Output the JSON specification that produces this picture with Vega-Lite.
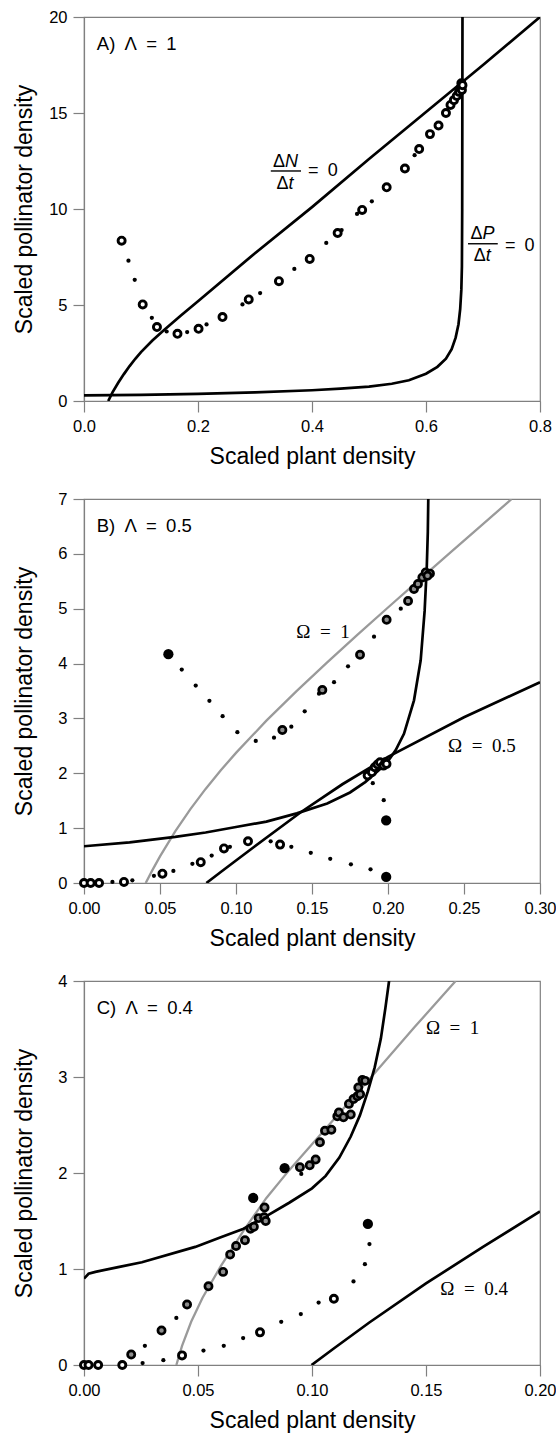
{
"$schema": "https://vega.github.io/schema/vega-lite/v6.json",
"background": "white",
"padding": {"left": 12, "top": 8, "right": 0, "bottom": 0},
"bounds": "flush",
"spacing": 98,
"datasets": {
"curves": [
{"p":"A","c":"N","g":"k","i":0,"x":0.0425,"y":0},{"p":"A","c":"N","g":"k","i":1,"x":0.05,"y":0.45},{"p":"A","c":"N","g":"k","i":2,"x":0.06,"y":0.95},{"p":"A","c":"N","g":"k","i":3,"x":0.07,"y":1.4},{"p":"A","c":"N","g":"k","i":4,"x":0.08,"y":1.82},{"p":"A","c":"N","g":"k","i":5,"x":0.09,"y":2.2},{"p":"A","c":"N","g":"k","i":6,"x":0.1,"y":2.55},{"p":"A","c":"N","g":"k","i":7,"x":0.12,"y":3.15},{"p":"A","c":"N","g":"k","i":8,"x":0.14,"y":3.68},{"p":"A","c":"N","g":"k","i":9,"x":0.17,"y":4.45},{"p":"A","c":"N","g":"k","i":10,"x":0.2,"y":5.2},{"p":"A","c":"N","g":"k","i":11,"x":0.3,"y":7.7},{"p":"A","c":"N","g":"k","i":12,"x":0.4,"y":10.1},{"p":"A","c":"N","g":"k","i":13,"x":0.5,"y":12.6},{"p":"A","c":"N","g":"k","i":14,"x":0.6,"y":15.05},{"p":"A","c":"N","g":"k","i":15,"x":0.7,"y":17.5},{"p":"A","c":"N","g":"k","i":16,"x":0.8,"y":20},
{"p":"A","c":"P","g":"k","i":0,"x":0,"y":0.29},{"p":"A","c":"P","g":"k","i":1,"x":0.1,"y":0.32},{"p":"A","c":"P","g":"k","i":2,"x":0.2,"y":0.37},{"p":"A","c":"P","g":"k","i":3,"x":0.3,"y":0.45},{"p":"A","c":"P","g":"k","i":4,"x":0.4,"y":0.56},{"p":"A","c":"P","g":"k","i":5,"x":0.45,"y":0.64},{"p":"A","c":"P","g":"k","i":6,"x":0.5,"y":0.75},{"p":"A","c":"P","g":"k","i":7,"x":0.54,"y":0.9},{"p":"A","c":"P","g":"k","i":8,"x":0.57,"y":1.08},{"p":"A","c":"P","g":"k","i":9,"x":0.6,"y":1.42},{"p":"A","c":"P","g":"k","i":10,"x":0.62,"y":1.78},{"p":"A","c":"P","g":"k","i":11,"x":0.635,"y":2.2},{"p":"A","c":"P","g":"k","i":12,"x":0.645,"y":2.7},{"p":"A","c":"P","g":"k","i":13,"x":0.652,"y":3.3},{"p":"A","c":"P","g":"k","i":14,"x":0.657,"y":4.0},{"p":"A","c":"P","g":"k","i":15,"x":0.66,"y":4.8},{"p":"A","c":"P","g":"k","i":16,"x":0.662,"y":5.8},{"p":"A","c":"P","g":"k","i":17,"x":0.663,"y":7},{"p":"A","c":"P","g":"k","i":18,"x":0.6635,"y":10},{"p":"A","c":"P","g":"k","i":19,"x":0.664,"y":20},
{"p":"B","c":"P","g":"k","i":0,"x":0,"y":0.67},{"p":"B","c":"P","g":"k","i":1,"x":0.03,"y":0.74},{"p":"B","c":"P","g":"k","i":2,"x":0.06,"y":0.84},{"p":"B","c":"P","g":"k","i":3,"x":0.08,"y":0.92},{"p":"B","c":"P","g":"k","i":4,"x":0.1,"y":1.02},{"p":"B","c":"P","g":"k","i":5,"x":0.12,"y":1.12},{"p":"B","c":"P","g":"k","i":6,"x":0.14,"y":1.27},{"p":"B","c":"P","g":"k","i":7,"x":0.16,"y":1.45},{"p":"B","c":"P","g":"k","i":8,"x":0.175,"y":1.65},{"p":"B","c":"P","g":"k","i":9,"x":0.185,"y":1.84},{"p":"B","c":"P","g":"k","i":10,"x":0.195,"y":2.08},{"p":"B","c":"P","g":"k","i":11,"x":0.2007,"y":2.25},{"p":"B","c":"P","g":"k","i":12,"x":0.205,"y":2.42},{"p":"B","c":"P","g":"k","i":13,"x":0.2105,"y":2.72},{"p":"B","c":"P","g":"k","i":14,"x":0.2171,"y":3.33},{"p":"B","c":"P","g":"k","i":15,"x":0.2215,"y":4.06},{"p":"B","c":"P","g":"k","i":16,"x":0.2241,"y":4.96},{"p":"B","c":"P","g":"k","i":17,"x":0.2255,"y":5.75},{"p":"B","c":"P","g":"k","i":18,"x":0.2262,"y":6.4},{"p":"B","c":"P","g":"k","i":19,"x":0.2265,"y":7.0},
{"p":"B","c":"O5","g":"k","i":0,"x":0.0805,"y":0},{"p":"B","c":"O5","g":"k","i":1,"x":0.09,"y":0.2},{"p":"B","c":"O5","g":"k","i":2,"x":0.1,"y":0.41},{"p":"B","c":"O5","g":"k","i":3,"x":0.1118,"y":0.656},{"p":"B","c":"O5","g":"k","i":4,"x":0.1426,"y":1.29},{"p":"B","c":"O5","g":"k","i":5,"x":0.17,"y":1.8},{"p":"B","c":"O5","g":"k","i":6,"x":0.2,"y":2.3},{"p":"B","c":"O5","g":"k","i":7,"x":0.25,"y":3.02},{"p":"B","c":"O5","g":"k","i":8,"x":0.3,"y":3.66},
{"p":"B","c":"O1","g":"g","i":0,"x":0.0406,"y":0},{"p":"B","c":"O1","g":"g","i":1,"x":0.045,"y":0.235},{"p":"B","c":"O1","g":"g","i":2,"x":0.05,"y":0.485},{"p":"B","c":"O1","g":"g","i":3,"x":0.06,"y":0.94},{"p":"B","c":"O1","g":"g","i":4,"x":0.07,"y":1.346},{"p":"B","c":"O1","g":"g","i":5,"x":0.08,"y":1.715},{"p":"B","c":"O1","g":"g","i":6,"x":0.09,"y":2.055},{"p":"B","c":"O1","g":"g","i":7,"x":0.1,"y":2.372},{"p":"B","c":"O1","g":"g","i":8,"x":0.12,"y":2.959},{"p":"B","c":"O1","g":"g","i":9,"x":0.14,"y":3.503},{"p":"B","c":"O1","g":"g","i":10,"x":0.16,"y":4.022},{"p":"B","c":"O1","g":"g","i":11,"x":0.18,"y":4.527},{"p":"B","c":"O1","g":"g","i":12,"x":0.2,"y":5.022},{"p":"B","c":"O1","g":"g","i":13,"x":0.22,"y":5.512},{"p":"B","c":"O1","g":"g","i":14,"x":0.24,"y":5.998},{"p":"B","c":"O1","g":"g","i":15,"x":0.26,"y":6.483},{"p":"B","c":"O1","g":"g","i":16,"x":0.2812,"y":6.996},
{"p":"C","c":"P","g":"k","i":0,"x":0,"y":0.9},{"p":"C","c":"P","g":"k","i":1,"x":0.002,"y":0.95},{"p":"C","c":"P","g":"k","i":2,"x":0.005,"y":0.97},{"p":"C","c":"P","g":"k","i":3,"x":0.015,"y":1.02},{"p":"C","c":"P","g":"k","i":4,"x":0.0254,"y":1.07},{"p":"C","c":"P","g":"k","i":5,"x":0.0488,"y":1.23},{"p":"C","c":"P","g":"k","i":6,"x":0.06,"y":1.33},{"p":"C","c":"P","g":"k","i":7,"x":0.07,"y":1.42},{"p":"C","c":"P","g":"k","i":8,"x":0.08,"y":1.55},{"p":"C","c":"P","g":"k","i":9,"x":0.09,"y":1.69},{"p":"C","c":"P","g":"k","i":10,"x":0.1,"y":1.84},{"p":"C","c":"P","g":"k","i":11,"x":0.106,"y":1.97},{"p":"C","c":"P","g":"k","i":12,"x":0.112,"y":2.16},{"p":"C","c":"P","g":"k","i":13,"x":0.117,"y":2.38},{"p":"C","c":"P","g":"k","i":14,"x":0.121,"y":2.6},{"p":"C","c":"P","g":"k","i":15,"x":0.1245,"y":2.85},{"p":"C","c":"P","g":"k","i":16,"x":0.1275,"y":3.1},{"p":"C","c":"P","g":"k","i":17,"x":0.1302,"y":3.4},{"p":"C","c":"P","g":"k","i":18,"x":0.1322,"y":3.72},{"p":"C","c":"P","g":"k","i":19,"x":0.1338,"y":4.0},
{"p":"C","c":"O1","g":"g","i":0,"x":0.0405,"y":0},{"p":"C","c":"O1","g":"g","i":1,"x":0.043,"y":0.2},{"p":"C","c":"O1","g":"g","i":2,"x":0.047,"y":0.45},{"p":"C","c":"O1","g":"g","i":3,"x":0.052,"y":0.7},{"p":"C","c":"O1","g":"g","i":4,"x":0.06,"y":1.03},{"p":"C","c":"O1","g":"g","i":5,"x":0.07,"y":1.4},{"p":"C","c":"O1","g":"g","i":6,"x":0.08,"y":1.74},{"p":"C","c":"O1","g":"g","i":7,"x":0.09,"y":2.03},{"p":"C","c":"O1","g":"g","i":8,"x":0.1,"y":2.3},{"p":"C","c":"O1","g":"g","i":9,"x":0.11,"y":2.57},{"p":"C","c":"O1","g":"g","i":10,"x":0.126,"y":3.0},{"p":"C","c":"O1","g":"g","i":11,"x":0.145,"y":3.52},{"p":"C","c":"O1","g":"g","i":12,"x":0.163,"y":4.0},
{"p":"C","c":"O4","g":"k","i":0,"x":0.0998,"y":0},{"p":"C","c":"O4","g":"k","i":1,"x":0.11,"y":0.18},{"p":"C","c":"O4","g":"k","i":2,"x":0.125,"y":0.44},{"p":"C","c":"O4","g":"k","i":3,"x":0.15,"y":0.85},{"p":"C","c":"O4","g":"k","i":4,"x":0.175,"y":1.23},{"p":"C","c":"O4","g":"k","i":5,"x":0.2,"y":1.6}
],
"pts": [
{"p":"A","k":"dot","x":0.078,"y":7.31},{"p":"A","k":"dot","x":0.089,"y":6.31},{"p":"A","k":"dot","x":0.119,"y":4.33},{"p":"A","k":"dot","x":0.145,"y":3.62},{"p":"A","k":"dot","x":0.181,"y":3.59},{"p":"A","k":"dot","x":0.215,"y":3.99},{"p":"A","k":"dot","x":0.278,"y":5.03},{"p":"A","k":"dot","x":0.309,"y":5.62},{"p":"A","k":"dot","x":0.369,"y":6.88},{"p":"A","k":"dot","x":0.425,"y":8.23},{"p":"A","k":"dot","x":0.452,"y":8.9},{"p":"A","k":"dot","x":0.479,"y":9.74},{"p":"A","k":"dot","x":0.505,"y":10.4},{"p":"A","k":"dot","x":0.58,"y":12.8},
{"p":"A","k":"open","x":0.066,"y":8.35},{"p":"A","k":"open","x":0.103,"y":5.03},{"p":"A","k":"open","x":0.128,"y":3.85},{"p":"A","k":"open","x":0.164,"y":3.5},{"p":"A","k":"open","x":0.201,"y":3.76},{"p":"A","k":"open","x":0.243,"y":4.37},{"p":"A","k":"open","x":0.289,"y":5.29},{"p":"A","k":"open","x":0.342,"y":6.24},{"p":"A","k":"open","x":0.396,"y":7.4},{"p":"A","k":"open","x":0.445,"y":8.75},{"p":"A","k":"open","x":0.488,"y":9.95},{"p":"A","k":"open","x":0.531,"y":11.13},{"p":"A","k":"open","x":0.563,"y":12.11},{"p":"A","k":"open","x":0.588,"y":13.12},{"p":"A","k":"open","x":0.607,"y":13.9},{"p":"A","k":"open","x":0.622,"y":14.35},{"p":"A","k":"open","x":0.635,"y":15.0},{"p":"A","k":"open","x":0.643,"y":15.42},{"p":"A","k":"open","x":0.649,"y":15.67},{"p":"A","k":"open","x":0.654,"y":15.89},{"p":"A","k":"open","x":0.658,"y":16.1},{"p":"A","k":"open","x":0.661,"y":16.3},{"p":"A","k":"open","x":0.663,"y":16.2},{"p":"A","k":"open","x":0.662,"y":16.55},{"p":"A","k":"open","x":0.664,"y":16.45},
{"p":"B","k":"dot","x":0.0643,"y":3.89},{"p":"B","k":"dot","x":0.0735,"y":3.6},{"p":"B","k":"dot","x":0.0825,"y":3.32},{"p":"B","k":"dot","x":0.0912,"y":3.04},{"p":"B","k":"dot","x":0.1009,"y":2.75},{"p":"B","k":"dot","x":0.113,"y":2.59},{"p":"B","k":"dot","x":0.125,"y":2.65},{"p":"B","k":"dot","x":0.1364,"y":2.85},{"p":"B","k":"dot","x":0.1452,"y":3.13},{"p":"B","k":"dot","x":0.1546,"y":3.45},{"p":"B","k":"dot","x":0.1645,"y":3.66},{"p":"B","k":"dot","x":0.1737,"y":3.95},{"p":"B","k":"dot","x":0.1908,"y":4.49},{"p":"B","k":"dot","x":0.2084,"y":5.0},{"p":"B","k":"dot","x":0.1972,"y":1.51},{"p":"B","k":"dot","x":0.19,"y":1.82},{"p":"B","k":"dot","x":0.1885,"y":0.25},{"p":"B","k":"dot","x":0.1756,"y":0.34},{"p":"B","k":"dot","x":0.162,"y":0.44},{"p":"B","k":"dot","x":0.1492,"y":0.55},{"p":"B","k":"dot","x":0.1364,"y":0.66},{"p":"B","k":"dot","x":0.1228,"y":0.76},{"p":"B","k":"dot","x":0.096,"y":0.66},{"p":"B","k":"dot","x":0.084,"y":0.5},{"p":"B","k":"dot","x":0.0713,"y":0.35},{"p":"B","k":"dot","x":0.0588,"y":0.22},{"p":"B","k":"dot","x":0.046,"y":0.13},{"p":"B","k":"dot","x":0.0318,"y":0.05},{"p":"B","k":"dot","x":0.0187,"y":0.02},
{"p":"B","k":"black","x":0.0555,"y":4.17},{"p":"B","k":"black","x":0.1988,"y":1.14},{"p":"B","k":"black","x":0.1988,"y":0.11},
{"p":"B","k":"open","x":0,"y":0},{"p":"B","k":"open","x":0.0044,"y":0},{"p":"B","k":"open","x":0.0099,"y":0},{"p":"B","k":"open","x":0.0263,"y":0.02},{"p":"B","k":"open","x":0.0516,"y":0.17},{"p":"B","k":"open","x":0.0768,"y":0.38},{"p":"B","k":"open","x":0.0921,"y":0.63},{"p":"B","k":"open","x":0.1079,"y":0.76},{"p":"B","k":"open","x":0.129,"y":0.7},{"p":"B","k":"open","x":0.1866,"y":1.96},{"p":"B","k":"open","x":0.1894,"y":2.02},{"p":"B","k":"open","x":0.1913,"y":2.11},{"p":"B","k":"open","x":0.1931,"y":2.16},{"p":"B","k":"open","x":0.1948,"y":2.2},{"p":"B","k":"open","x":0.197,"y":2.14},{"p":"B","k":"open","x":0.1983,"y":2.2},{"p":"B","k":"open","x":0.199,"y":2.17},
{"p":"B","k":"gray","x":0.1305,"y":2.79},{"p":"B","k":"gray","x":0.1568,"y":3.52},{"p":"B","k":"gray","x":0.1816,"y":4.16},{"p":"B","k":"gray","x":0.1991,"y":4.8},{"p":"B","k":"gray","x":0.2132,"y":5.14},{"p":"B","k":"gray","x":0.2171,"y":5.36},{"p":"B","k":"gray","x":0.2197,"y":5.45},{"p":"B","k":"gray","x":0.2226,"y":5.57},{"p":"B","k":"gray","x":0.2248,"y":5.66},{"p":"B","k":"gray","x":0.2276,"y":5.64},{"p":"B","k":"gray","x":0.226,"y":5.6},
{"p":"C","k":"dot","x":0.0257,"y":0.02},{"p":"C","k":"dot","x":0.0348,"y":0.05},{"p":"C","k":"dot","x":0.0524,"y":0.15},{"p":"C","k":"dot","x":0.0613,"y":0.2},{"p":"C","k":"dot","x":0.0698,"y":0.28},{"p":"C","k":"dot","x":0.0865,"y":0.45},{"p":"C","k":"dot","x":0.0951,"y":0.53},{"p":"C","k":"dot","x":0.1029,"y":0.65},{"p":"C","k":"dot","x":0.1182,"y":0.87},{"p":"C","k":"dot","x":0.1232,"y":1.05},{"p":"C","k":"dot","x":0.1252,"y":1.26},{"p":"C","k":"dot","x":0.0267,"y":0.2},{"p":"C","k":"dot","x":0.0405,"y":0.49},{"p":"C","k":"dot","x":0.0953,"y":1.99},
{"p":"C","k":"black","x":0.0742,"y":1.74},{"p":"C","k":"black","x":0.088,"y":2.05},{"p":"C","k":"black","x":0.1245,"y":1.47},
{"p":"C","k":"open","x":0,"y":0},{"p":"C","k":"open","x":0.002,"y":0},{"p":"C","k":"open","x":0.0062,"y":0},{"p":"C","k":"open","x":0.0168,"y":0},{"p":"C","k":"open","x":0.043,"y":0.1},{"p":"C","k":"open","x":0.0772,"y":0.34},{"p":"C","k":"open","x":0.1096,"y":0.69},
{"p":"C","k":"gray","x":0.0207,"y":0.11},{"p":"C","k":"gray","x":0.034,"y":0.36},{"p":"C","k":"gray","x":0.0452,"y":0.63},{"p":"C","k":"gray","x":0.0546,"y":0.82},{"p":"C","k":"gray","x":0.061,"y":0.97},{"p":"C","k":"gray","x":0.0641,"y":1.15},{"p":"C","k":"gray","x":0.0667,"y":1.24},{"p":"C","k":"gray","x":0.0706,"y":1.3},{"p":"C","k":"gray","x":0.073,"y":1.42},{"p":"C","k":"gray","x":0.0745,"y":1.44},{"p":"C","k":"gray","x":0.0766,"y":1.53},{"p":"C","k":"gray","x":0.0792,"y":1.64},{"p":"C","k":"gray","x":0.079,"y":1.54},{"p":"C","k":"gray","x":0.0797,"y":1.5},{"p":"C","k":"gray","x":0.0947,"y":2.06},{"p":"C","k":"gray","x":0.099,"y":2.08},{"p":"C","k":"gray","x":0.1016,"y":2.14},{"p":"C","k":"gray","x":0.1035,"y":2.32},{"p":"C","k":"gray","x":0.1057,"y":2.44},{"p":"C","k":"gray","x":0.1085,"y":2.45},{"p":"C","k":"gray","x":0.1111,"y":2.59},{"p":"C","k":"gray","x":0.1118,"y":2.63},{"p":"C","k":"gray","x":0.1138,"y":2.58},{"p":"C","k":"gray","x":0.117,"y":2.61},{"p":"C","k":"gray","x":0.1162,"y":2.72},{"p":"C","k":"gray","x":0.1182,"y":2.77},{"p":"C","k":"gray","x":0.1199,"y":2.8},{"p":"C","k":"gray","x":0.1211,"y":2.82},{"p":"C","k":"gray","x":0.1203,"y":2.89},{"p":"C","k":"gray","x":0.1221,"y":2.97},{"p":"C","k":"gray","x":0.1233,"y":2.96}
],
"ann": [
{"p":"A","f":"sans","x":0.0225,"y":18.6,"t":"A)\u2002Λ\u2002=\u20021"},
{"p":"A","f":"up","x":0.3526,"y":12.45,"t":"Δ"},{"p":"A","f":"it","x":0.3526,"y":12.45,"t":"N"},
{"p":"A","f":"up","x":0.3589,"y":11.32,"t":"Δ"},{"p":"A","f":"it","x":0.3589,"y":11.32,"t":"t"},
{"p":"A","f":"eq","x":0.3932,"y":11.98,"t":"=\u20020"},
{"p":"A","f":"up","x":0.6991,"y":8.68,"t":"Δ"},{"p":"A","f":"it","x":0.6991,"y":8.68,"t":"P"},
{"p":"A","f":"up","x":0.7048,"y":7.55,"t":"Δ"},{"p":"A","f":"it","x":0.7048,"y":7.55,"t":"t"},
{"p":"A","f":"eq","x":0.7384,"y":8.07,"t":"=\u20020"},
{"p":"B","f":"sans","x":0.00836,"y":6.51,"t":"B)\u2002Λ\u2002=\u20020.5"},
{"p":"B","f":"serif","x":0.1397,"y":4.57,"t":"Ω\u2002=\u20021"},
{"p":"B","f":"serif","x":0.2395,"y":2.49,"t":"Ω\u2002=\u20020.5"},
{"p":"C","f":"sans","x":0.00557,"y":3.72,"t":"C)\u2002Λ\u2002=\u20020.4"},
{"p":"C","f":"serif","x":0.15,"y":3.51,"t":"Ω\u2002=\u20021"},
{"p":"C","f":"serif","x":0.1563,"y":0.79,"t":"Ω\u2002=\u20020.4"}
],
"bars": [
{"p":"A","x":0.3277,"x2":0.3807,"y":11.98},
{"p":"A","x":0.6737,"x2":0.7259,"y":8.19}
]
},
"vconcat": [
{
"width": 456, "height": 384,
"encoding": {
"x": {"field": "x", "type": "quantitative", "title": "Scaled plant density", "scale": {"domain": [0, 0.8], "nice": false, "zero": false}, "axis": {"values": [0, 0.2, 0.4, 0.6, 0.8], "format": ".1f"}},
"y": {"field": "y", "type": "quantitative", "title": "Scaled pollinator density", "scale": {"domain": [0, 20], "nice": false, "zero": false}, "axis": {"values": [0, 5, 10, 15, 20], "format": "d"}}
},
"layer": [
{"data": {"name": "curves"}, "transform": [{"filter": "datum.p == 'A' && datum.g == 'k'"}], "mark": {"type": "line", "clip": true, "color": "#000000", "strokeWidth": 2.7}, "encoding": {"detail": {"field": "c", "type": "nominal"}, "order": {"field": "i", "type": "quantitative"}}},
{"data": {"name": "pts"}, "transform": [{"filter": "datum.p == 'A' && datum.k == 'dot'"}], "mark": {"type": "circle", "size": 18, "color": "#000000", "opacity": 1}},
{"data": {"name": "pts"}, "transform": [{"filter": "datum.p == 'A' && datum.k == 'open'"}], "mark": {"type": "circle", "size": 50, "fill": "#ffffff", "stroke": "#000000", "strokeWidth": 2.9, "opacity": 1}},
{"data": {"name": "bars"}, "transform": [{"filter": "datum.p == 'A'"}], "mark": {"type": "rule", "color": "#000000", "strokeWidth": 1.4}, "encoding": {"x2": {"field": "x2"}}},
{"data": {"name": "ann"}, "transform": [{"filter": "datum.p == 'A' && datum.f == 'sans'"}], "mark": {"type": "text", "align": "left", "baseline": "middle", "font": "Liberation Sans", "fontSize": 18.5, "color": "#000000"}, "encoding": {"text": {"field": "t"}}},
{"data": {"name": "ann"}, "transform": [{"filter": "datum.p == 'A' && datum.f == 'up'"}], "mark": {"type": "text", "align": "right", "baseline": "middle", "font": "Liberation Sans", "fontSize": 18, "color": "#000000"}, "encoding": {"text": {"field": "t"}}},
{"data": {"name": "ann"}, "transform": [{"filter": "datum.p == 'A' && datum.f == 'it'"}], "mark": {"type": "text", "align": "left", "baseline": "middle", "font": "Liberation Sans", "fontStyle": "italic", "fontSize": 18, "color": "#000000"}, "encoding": {"text": {"field": "t"}}},
{"data": {"name": "ann"}, "transform": [{"filter": "datum.p == 'A' && datum.f == 'eq'"}], "mark": {"type": "text", "align": "left", "baseline": "middle", "font": "Liberation Sans", "fontSize": 18, "color": "#000000"}, "encoding": {"text": {"field": "t"}}}
]
},
{
"width": 456, "height": 384,
"encoding": {
"x": {"field": "x", "type": "quantitative", "title": "Scaled plant density", "scale": {"domain": [0, 0.3], "nice": false, "zero": false}, "axis": {"values": [0, 0.05, 0.1, 0.15, 0.2, 0.25, 0.3], "format": ".2f"}},
"y": {"field": "y", "type": "quantitative", "title": "Scaled pollinator density", "scale": {"domain": [0, 7], "nice": false, "zero": false}, "axis": {"values": [0, 1, 2, 3, 4, 5, 6, 7], "format": "d"}}
},
"layer": [
{"data": {"name": "curves"}, "transform": [{"filter": "datum.p == 'B' && datum.g == 'g'"}], "mark": {"type": "line", "clip": true, "color": "#9a9a9a", "strokeWidth": 2.3}, "encoding": {"detail": {"field": "c", "type": "nominal"}, "order": {"field": "i", "type": "quantitative"}}},
{"data": {"name": "curves"}, "transform": [{"filter": "datum.p == 'B' && datum.g == 'k'"}], "mark": {"type": "line", "clip": true, "color": "#000000", "strokeWidth": 2.7}, "encoding": {"detail": {"field": "c", "type": "nominal"}, "order": {"field": "i", "type": "quantitative"}}},
{"data": {"name": "pts"}, "transform": [{"filter": "datum.p == 'B' && datum.k == 'dot'"}], "mark": {"type": "circle", "size": 18, "color": "#000000", "opacity": 1}},
{"data": {"name": "pts"}, "transform": [{"filter": "datum.p == 'B' && datum.k == 'black'"}], "mark": {"type": "circle", "size": 105, "color": "#000000", "opacity": 1}},
{"data": {"name": "pts"}, "transform": [{"filter": "datum.p == 'B' && datum.k == 'open'"}], "mark": {"type": "circle", "size": 50, "fill": "#ffffff", "stroke": "#000000", "strokeWidth": 2.9, "opacity": 1}},
{"data": {"name": "pts"}, "transform": [{"filter": "datum.p == 'B' && datum.k == 'gray'"}], "mark": {"type": "circle", "size": 52, "fill": "#8c8c8c", "stroke": "#000000", "strokeWidth": 2.7, "opacity": 1}},
{"data": {"name": "ann"}, "transform": [{"filter": "datum.p == 'B' && datum.f == 'sans'"}], "mark": {"type": "text", "align": "left", "baseline": "middle", "font": "Liberation Sans", "fontSize": 18.5, "color": "#000000"}, "encoding": {"text": {"field": "t"}}},
{"data": {"name": "ann"}, "transform": [{"filter": "datum.p == 'B' && datum.f == 'serif'"}], "mark": {"type": "text", "align": "left", "baseline": "middle", "font": "Liberation Serif", "fontSize": 19, "color": "#000000"}, "encoding": {"text": {"field": "t"}}}
]
},
{
"width": 456, "height": 384,
"encoding": {
"x": {"field": "x", "type": "quantitative", "title": "Scaled plant density", "scale": {"domain": [0, 0.2], "nice": false, "zero": false}, "axis": {"values": [0, 0.05, 0.1, 0.15, 0.2], "format": ".2f"}},
"y": {"field": "y", "type": "quantitative", "title": "Scaled pollinator density", "scale": {"domain": [0, 4], "nice": false, "zero": false}, "axis": {"values": [0, 1, 2, 3, 4], "format": "d"}}
},
"layer": [
{"data": {"name": "curves"}, "transform": [{"filter": "datum.p == 'C' && datum.g == 'g'"}], "mark": {"type": "line", "clip": true, "color": "#9a9a9a", "strokeWidth": 2.3}, "encoding": {"detail": {"field": "c", "type": "nominal"}, "order": {"field": "i", "type": "quantitative"}}},
{"data": {"name": "curves"}, "transform": [{"filter": "datum.p == 'C' && datum.g == 'k'"}], "mark": {"type": "line", "clip": true, "color": "#000000", "strokeWidth": 2.7}, "encoding": {"detail": {"field": "c", "type": "nominal"}, "order": {"field": "i", "type": "quantitative"}}},
{"data": {"name": "pts"}, "transform": [{"filter": "datum.p == 'C' && datum.k == 'dot'"}], "mark": {"type": "circle", "size": 18, "color": "#000000", "opacity": 1}},
{"data": {"name": "pts"}, "transform": [{"filter": "datum.p == 'C' && datum.k == 'black'"}], "mark": {"type": "circle", "size": 105, "color": "#000000", "opacity": 1}},
{"data": {"name": "pts"}, "transform": [{"filter": "datum.p == 'C' && datum.k == 'open'"}], "mark": {"type": "circle", "size": 50, "fill": "#ffffff", "stroke": "#000000", "strokeWidth": 2.9, "opacity": 1}},
{"data": {"name": "pts"}, "transform": [{"filter": "datum.p == 'C' && datum.k == 'gray'"}], "mark": {"type": "circle", "size": 52, "fill": "#8c8c8c", "stroke": "#000000", "strokeWidth": 2.7, "opacity": 1}},
{"data": {"name": "ann"}, "transform": [{"filter": "datum.p == 'C' && datum.f == 'sans'"}], "mark": {"type": "text", "align": "left", "baseline": "middle", "font": "Liberation Sans", "fontSize": 18.5, "color": "#000000"}, "encoding": {"text": {"field": "t"}}},
{"data": {"name": "ann"}, "transform": [{"filter": "datum.p == 'C' && datum.f == 'serif'"}], "mark": {"type": "text", "align": "left", "baseline": "middle", "font": "Liberation Serif", "fontSize": 19, "color": "#000000"}, "encoding": {"text": {"field": "t"}}}
]
}
],
"config": {
"font": "Liberation Sans",
"view": {"stroke": "#808080", "strokeWidth": 1.2},
"axis": {"grid": false, "domainColor": "#808080", "domainWidth": 1.2, "tickColor": "#808080", "tickWidth": 1.2, "tickSize": 11, "labelFont": "Liberation Sans", "labelFontSize": 16.5, "labelColor": "#000000", "labelFlush": false, "labelOverlap": false, "titleFont": "Liberation Sans", "titleFontSize": 23, "titleFontWeight": "normal", "titleColor": "#000000"},
"axisX": {"labelPadding": 6, "titleY": 55, "titleBaseline": "middle"},
"axisY": {"labelPadding": 6, "titleX": -60, "titleBaseline": "middle"}
}
}
